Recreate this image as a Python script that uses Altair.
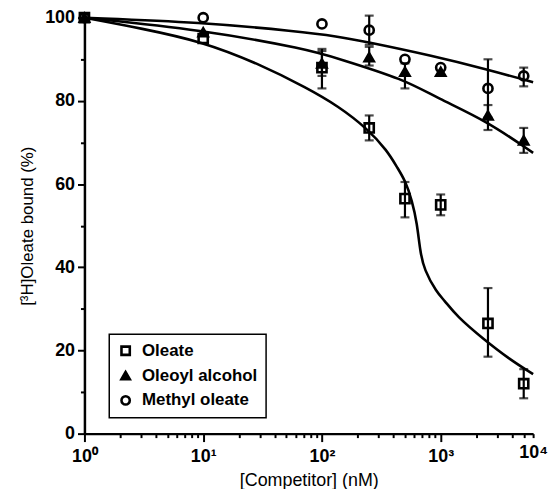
import altair as alt
import pandas as pd

# ---------------- data ----------------
series_names = ["Oleate", "Oleoyl alcohol", "Methyl oleate"]
conc = [1, 10, 100, 250, 500, 1000, 2500, 5000]

oleate_y = [100, 95, 88, 73.5, 56.5, 55, 26.5, 12]
oleate_lo = [None, None, 83, 70.5, 52, 52.5, 18.5, 8.5]
oleate_hi = [None, None, 92.5, 76.5, 60.5, 57.5, 35, 15.5]

alcohol_y = [100, 96.5, 89, 90.5, 87, 87, 76.5, 70.5]
alcohol_lo = [None, None, 86, 88.5, 83, None, 73, 67.5]
alcohol_hi = [None, None, 92, 93, 89, None, 79, 73.5]

methyl_y = [100, 100, 98.5, 97, 90, 88, 83, 86]
methyl_lo = [None, None, None, 93.5, None, None, 76, 83.5]
methyl_hi = [None, None, None, 100.5, None, None, 90, 88]

# fitted curves
oleate_fit_x = [1, 3.05, 9.7, 29, 76, 136, 242, 355, 430, 502, 574, 632, 670, 724, 929, 1064, 1366, 2297, 3790, 6000]
oleate_fit_y = [100, 97.4, 94.3, 89, 83, 78.8, 73.3, 68, 64, 60.9, 56, 50.6, 44, 39.4, 33.9, 32.2, 28.2, 22.7, 17.9, 14.3]
alcohol_fit_x = [1, 9.7, 76, 136, 492, 929, 2434, 6000]
alcohol_fit_y = [100, 97.1, 92.4, 90.2, 85.2, 80.7, 75.2, 67.5]
methyl_fit_x = [1, 9.7, 63, 136, 228, 870, 2434, 6000]
methyl_fit_y = [100, 98.9, 96.7, 95.5, 94.3, 90.8, 87.6, 84.5]

x_end = 6000  # right end of the drawn axis (labelled 10^4 in the reference)
shape_range = ["square", "triangle-up", "circle"]
fill_range = ["transparent", "black", "transparent"]
stroke_range = ["black", "black", "black"]

y_title = "[\u00b3H]Oleate bound (%)"
x_title = "[Competitor] (nM)"

# ---------------- tables ----------------
pts_rows, err_rows, fit_rows = [], [], []
for name, ys, los, his in [
    (series_names[0], oleate_y, oleate_lo, oleate_hi),
    (series_names[1], alcohol_y, alcohol_lo, alcohol_hi),
    (series_names[2], methyl_y, methyl_lo, methyl_hi),
]:
    for c, y, lo, hi in zip(conc, ys, los, his):
        pts_rows.append({"series": name, "x": c, "y": y})
        if lo is not None:
            err_rows.append({"series": name, "x": c, "y": lo, "y2": hi})
for name, fx, fy in [
    (series_names[0], oleate_fit_x, oleate_fit_y),
    (series_names[1], alcohol_fit_x, alcohol_fit_y),
    (series_names[2], methyl_fit_x, methyl_fit_y),
]:
    for a, b in zip(fx, fy):
        fit_rows.append({"series": name, "x": a, "y": b})

pts = pd.DataFrame(pts_rows)
errs = pd.DataFrame(err_rows)
fits = pd.DataFrame(fit_rows)

# ---------------- axes ----------------
x_ticks = [m * 10 ** e for e in range(4) for m in range(1, 10) if m * 10 ** e < x_end] + [x_end]
x_label_expr = (
    "datum.value == 1 ? '10\u2070' : datum.value == 10 ? '10\u00b9' : "
    "datum.value == 100 ? '10\u00b2' : datum.value == 1000 ? '10\u00b3' : "
    f"datum.value == {x_end} ? '10\u2074' : ''"
)
x_scale = alt.Scale(type="log", domain=[1, x_end], nice=False)
x_axis = alt.Axis(
    title=x_title,
    values=x_ticks,
    labelExpr=x_label_expr,
    tickSize={"condition": {"test": "indexof([1,10,100,1000], datum.value) >= 0", "value": 8}, "value": 4},
    grid=False,
    labelFlush=False,
    labelOverlap=False,
)
y_scale = alt.Scale(domain=[0, 100], nice=False)
y_axis = alt.Axis(
    title=y_title,
    values=list(range(0, 101, 10)),
    labelExpr="datum.value % 20 == 0 ? datum.label : ''",
    tickSize={"condition": {"test": "datum.value % 20 == 0", "value": 7}, "value": 4},
    grid=False,
    labelFlush=False,
    labelOverlap=False,
)

X = alt.X("x:Q", scale=x_scale, axis=x_axis, title=x_title)
Y = alt.Y("y:Q", scale=y_scale, axis=y_axis, title=y_title)

lines = alt.Chart(fits).mark_line(color="black", strokeWidth=2.6, interpolate="basis", clip=False).encode(
    x=X, y=Y, detail="series:N"
)

bars = alt.Chart(errs).mark_errorbar(ticks=True, size=9, thickness=2.2, color="black", clip=False).encode(
    x=X,
    y=Y,
    y2="y2:Q",
)

leg = alt.Legend(title=None, orient="none", legendX=25, legendY=319)
points = alt.Chart(pts).mark_point(size=85, strokeWidth=2.6, opacity=1, clip=False).encode(
    x=X,
    y=Y,
    shape=alt.Shape("series:N", scale=alt.Scale(domain=series_names, range=shape_range), legend=leg),
    fill=alt.Fill("series:N", scale=alt.Scale(domain=series_names, range=fill_range), legend=leg),
    stroke=alt.Stroke("series:N", scale=alt.Scale(domain=series_names, range=stroke_range), legend=leg),
)

chart = (
    alt.layer(lines, bars, points)
    .properties(
        width=452,
        height=419,
        autosize=alt.AutoSizeParams(type="none"),
        padding={"left": 77, "top": 8, "right": 16, "bottom": 54},
    )
    .configure_view(stroke=None)
    .configure_axis(
        domainColor="black",
        domainWidth=2.5,
        tickColor="black",
        tickWidth=2,
        labelColor="black",
        labelFont="Liberation Sans",
        labelFontSize=18,
        labelFontWeight="bold",
        titleColor="black",
        titleFont="Liberation Sans",
        titleFontWeight="normal",
    )
    .configure_axisX(labelPadding=6, titleFontSize=18, titlePadding=6)
    .configure_axisY(labelPadding=3, titleFontSize=17, titlePadding=8)
    .configure_legend(
        strokeColor="black",
        strokeWidth=1.5,
        fillColor="white",
        padding=8,
        labelFont="Liberation Sans",
        labelFontSize=17,
        labelFontWeight="bold",
        labelColor="black",
        symbolSize=70,
        symbolStrokeWidth=2.6,
        symbolStrokeColor="black",
        rowPadding=6,
        labelOffset=8,
    )
)

chart.save("out.html", embed_options={"renderer": "svg", "actions": False})
